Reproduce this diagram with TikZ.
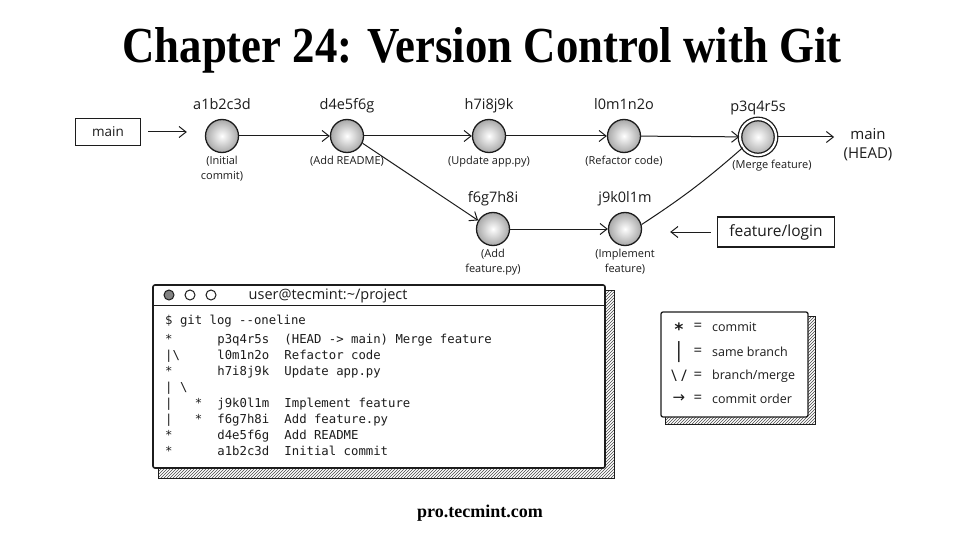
\documentclass[tikz,border=0pt]{standalone}
\usepackage{fontspec}
\setmainfont{Liberation Serif}
\setmonofont{DejaVu Sans Mono}
\newfontfamily\handfont{Open Sans}
\newfontfamily\symbfont{DejaVu Sans}
\usepackage{graphicx}
\usepackage{tikz}
\usetikzlibrary{
  arrows.meta,
  positioning,
  backgrounds,
  matrix,
  patterns
}
\usepackage{xcolor}
\definecolor{inkblack}{HTML}{1C1C1C}
\definecolor{shadegray}{HTML}{A8A8A8}
\newcommand{\logfont}{\ttfamily\fontsize{12.3}{16}\selectfont}
\tikzset{
  commit/.style={
    circle, draw=inkblack, line width=1.3pt, minimum size=33pt, inner sep=0pt,
    inner color=white, outer color=shadegray
  },
  merge/.style={commit, double=white, double distance=2.2pt, minimum size=36pt},
  hashlabel/.style={font=\handfont\fontsize{14.5}{16}\selectfont, text=inkblack, inner sep=2pt, text height=10.5pt, text depth=3pt},
  msglabel/.style={font=\handfont\fontsize{11}{15}\selectfont, text=inkblack, align=center, inner sep=2pt},
  branchbox/.style={
    rectangle, draw=inkblack, line width=1.2pt, fill=white,
    inner sep=4pt, text=inkblack
  },
  arrow/.style={-{Straight Barb[length=7pt, width=11pt]}, line width=1pt, draw=inkblack},
  link/.style={line width=1pt, draw=inkblack},
  window/.style={
    rectangle, draw=inkblack, line width=1.6pt, fill=white, rounded corners=2pt,
    minimum width=452pt, minimum height=183pt
  },
  winbtn/.style={circle, draw=inkblack, line width=1pt, minimum size=10pt, inner sep=0pt, fill=white},
  hatch/.style={pattern=north east lines, pattern color=inkblack!80},
  legsym/.style={font=\handfont\fontsize{15}{16}\selectfont, inner sep=0pt, text=inkblack},
  legtext/.style={font=\handfont\fontsize{12.5}{14}\selectfont, inner sep=0pt, anchor=west, text=inkblack},
}

\begin{document}
\begin{tikzpicture}[x=1pt, y=-1pt, node distance=4pt]
\useasboundingbox (0,0) rectangle (960,540);

% Title
\node[anchor=base] (title) at (482,63) {\resizebox{719pt}{35pt}{\bfseries Chapter 24: Version Control with Git}};

% Commit graph
\node[commit] (a) at (222,136) {};
\node[commit] (d) at (347,136) {};
\node[commit] (h) at (489,136) {};
\node[commit] (l) at (624,136) {};
\node[merge] (p) at (758,137) {};
\node[commit] (f) at (493,229) {};
\node[commit] (j) at (625,229) {};

\node[hashlabel, above=of a] (ha) {a1b2c3d};
\node[hashlabel, above=of d] (hd) {d4e5f6g};
\node[hashlabel, above=of h] (hh) {h7i8j9k};
\node[hashlabel, above=of l] (hl) {l0m1n2o};
\node[hashlabel, above=2pt of p] (hp) {p3q4r5s};
\node[hashlabel, above=of f] (hf) {f6g7h8i};
\node[hashlabel, above=of j] (hj) {j9k0l1m};

\node[msglabel, below=1pt of a] (ma) {(Initial\\commit)};
\node[msglabel, below=1pt of d] (md) {(Add README)};
\node[msglabel, below=1pt of h] (mh) {(Update app.py)};
\node[msglabel, below=1pt of l] (ml) {(Refactor code)};
\node[msglabel, below=2pt of p, xshift=14pt] (mp) {(Merge feature)};
\node[msglabel, below=1pt of f] (mf) {(Add\\feature.py)};
\node[msglabel, below=1pt of j] (mj) {(Implement\\feature)};

% Branch pointers
\node[branchbox, minimum width=65pt, minimum height=27pt, font=\handfont\fontsize{13.5}{15}\selectfont] (mainbr) at (108,132) {main};
\node[font=\handfont\fontsize{15}{19}\selectfont, align=center, text=inkblack] (head) at (868,145) {main\\(HEAD)};
\node[branchbox, minimum width=117pt, minimum height=30pt, font=\handfont\fontsize{15.5}{18}\selectfont] (featbr) at (776,232) {feature/login};

\draw[arrow, shorten <=7pt, shorten >=18pt] (mainbr.east) -- (mainbr.east -| a.west);
\draw[arrow] (a) -- (d);
\draw[arrow] (d) -- (h);
\draw[arrow] (h) -- (l);
\draw[arrow] (l) -- (p);
\draw[arrow] (d.-25) -- (f.150);
\draw[arrow] (f) -- (j);
\draw[link] (j.15) to[bend right=4] (p.-145);
\draw[arrow, shorten >=6pt] (p) -- (p -| head.west);
\draw[arrow, shorten <=6pt, shorten >=28pt] (featbr.west) -- (featbr.west -| j.east);

% Terminal window
\node[window] (term) at (379,376.5) {};
\draw[line width=1.1pt, inkblack] ([yshift=-21pt]term.north west) -- ([yshift=-21pt]term.north east);
\node[winbtn, fill=inkblack!55] (btn1) at (169,295) {};
\node[winbtn, right=10pt of btn1] (btn2) {};
\node[winbtn, right=10pt of btn2] (btn3) {};
\node[font=\handfont\fontsize{14.5}{16}\selectfont, inner sep=0pt, text=inkblack, right=32pt of btn3, yshift=-1pt] (termtitle) {user@tecmint:\textasciitilde/project};

\node[anchor=base west, inner sep=0pt, font=\logfont, text=inkblack] (cmd) at (165,324) {\$ git log -{}-oneline};
\matrix (log) [matrix of nodes, anchor=north west, inner sep=0pt, column sep=15pt, row sep=4pt,
  nodes={anchor=base west, inner sep=0pt, text height=9pt, text depth=3pt, font=\logfont, text=inkblack}] at (165,334) {
  * & p3q4r5s & (HEAD -> main) Merge feature \\
  \textbar\textbackslash & l0m1n2o & Refactor code \\
  * & h7i8j9k & Update app.py \\
  \textbar\ \textbackslash & & \\
  \textbar\ \ \ * & j9k0l1m & Implement feature \\
  \textbar\ \ \ * & f6g7h8i & Add feature.py \\
  * & d4e5f6g & Add README \\
  * & a1b2c3d & Initial commit \\
};

% Legend
\node[window, minimum width=147pt, minimum height=105pt, line width=1.3pt] (legend) at (734.5,364.5) {};
\node[legsym] (sym1) at (679,329) {\logfont\fontsize{17}{18}\selectfont\bfseries *};
\node[legsym, font=\handfont\fontsize{21}{22}\selectfont] (sym2) at (679,352) {|};
\node[legsym, font=\handfont\fontsize{16}{18}\selectfont] (sym3) at (679,376) {\textbackslash\ /};
\node[legsym] (sym4) at (679,399) {\symbfont →};
\node[legsym] (eq1) at (698,327) {=};
\node[legsym] (eq2) at (698,352) {=};
\node[legsym] (eq3) at (698,376) {=};
\node[legsym] (eq4) at (698,399) {=};
\node[legtext] (leg1) at (712,327) {commit};
\node[legtext] (leg2) at (712,352) {same branch};
\node[legtext] (leg3) at (712,376) {branch/merge};
\node[legtext] (leg4) at (712,399) {commit order};

% Shadows
\begin{scope}[on background layer]
  \fill[white] (0,0) rectangle (960,540);
  \fill[hatch] ([shift={(6,6)}]term.north west) rectangle ([shift={(8,9)}]term.south east);
  \draw[inkblack, line width=0.6pt] ([shift={(6,6)}]term.north west) rectangle ([shift={(8,9)}]term.south east);
  \fill[hatch] ([shift={(5,5)}]legend.north west) rectangle ([shift={(7,7)}]legend.south east);
  \draw[inkblack, line width=0.6pt] ([shift={(5,5)}]legend.north west) rectangle ([shift={(7,7)}]legend.south east);
\end{scope}

% Footer
\node (site) at (480,513) {\bfseries\fontsize{18}{20}\selectfont pro.tecmint.com};

\end{tikzpicture}
\end{document}
